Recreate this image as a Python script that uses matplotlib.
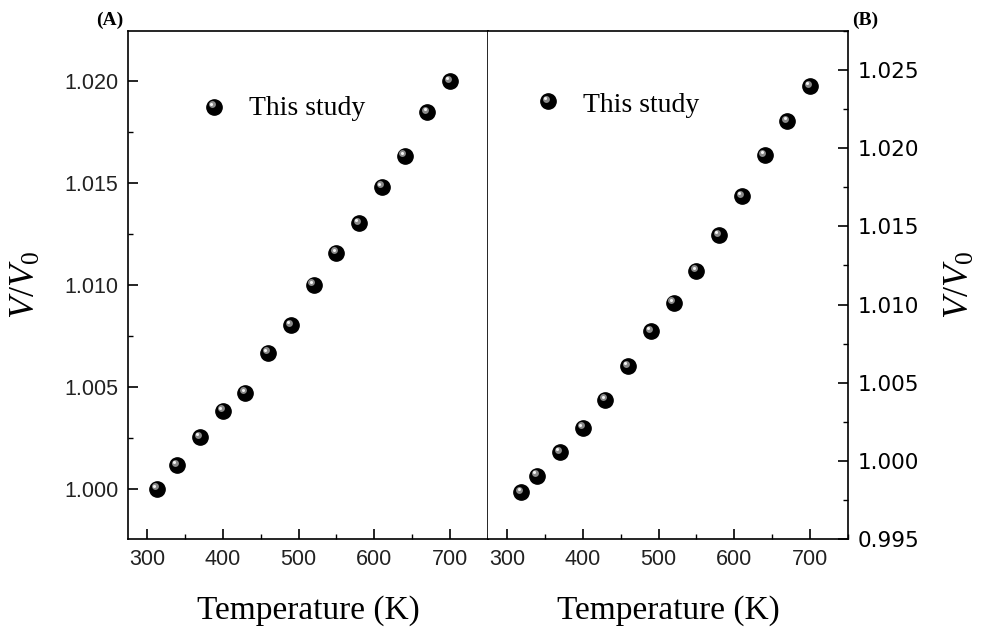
import matplotlib
matplotlib.use("Agg")
import matplotlib.pyplot as plt
import matplotlib.transforms as mtransforms
from matplotlib.ticker import MultipleLocator, FormatStrFormatter

# panel A data
temp_a = [313, 340, 370, 400, 430, 460, 490, 520, 550, 580, 610, 640, 670, 700]
vv0_a = [1.0000, 1.00115, 1.00252, 1.00382, 1.00471, 1.00667, 1.00803, 1.0100,
         1.01159, 1.01304, 1.01483, 1.01635, 1.01848, 1.0200]

# panel B data
temp_b = [319, 340, 370, 400, 430, 460, 490, 520, 550, 580, 610, 640, 670, 700]
vv0_b = [0.99799, 0.99906, 1.00056, 1.00212, 1.00391, 1.00605, 1.00829, 1.0101,
         1.01215, 1.01444, 1.01694, 1.01955, 1.02173, 1.02397]

serif = "Liberation Serif"
sans = "Liberation Sans"

plt.rcParams['mathtext.fontset'] = 'custom'
plt.rcParams['mathtext.it'] = 'Liberation Serif:italic'
plt.rcParams['mathtext.rm'] = 'Liberation Serif'

fig = plt.figure(figsize=(9.82, 6.3), dpi=100)
ax_a = fig.add_axes([128 / 982, 91 / 630, 360 / 982, 508 / 630])
ax_b = fig.add_axes([488 / 982, 91 / 630, 360 / 982, 508 / 630])


def sphere(ax, x, y, base, s=11):
    # black ball with a small highlight, offset up-left
    ax.plot(x, y, 'o', ms=s, color='black', mec='black', transform=base, zorder=3, clip_on=False)
    hi1 = mtransforms.offset_copy(base, fig=fig, x=-1.6, y=1.8, units='points')
    ax.plot(x, y, 'o', ms=s * 0.45, color='#8a8a8a', mec='none', transform=hi1, zorder=4, clip_on=False)
    hi2 = mtransforms.offset_copy(base, fig=fig, x=-2.0, y=2.2, units='points')
    ax.plot(x, y, 'o', ms=s * 0.2, color='#f2f2f2', mec='none', transform=hi2, zorder=5, clip_on=False)


sphere(ax_a, temp_a, vv0_a, ax_a.transData)
sphere(ax_b, temp_b, vv0_b, ax_b.transData)

for ax in (ax_a, ax_b):
    ax.set_xlim(275, 750)
    ax.xaxis.set_major_locator(MultipleLocator(100))
    ax.xaxis.set_minor_locator(MultipleLocator(50))
    ax.yaxis.set_major_locator(MultipleLocator(0.005))
    ax.yaxis.set_minor_locator(MultipleLocator(0.0025))
    ax.yaxis.set_major_formatter(FormatStrFormatter('%.3f'))
    ax.tick_params(which='major', direction='in', length=7.5, width=1.2, labelsize=15.5, pad=7)
    ax.tick_params(which='minor', direction='in', length=3.8, width=1.0)
    for sp in ax.spines.values():
        sp.set_linewidth(1.2)
    for lab in ax.get_xticklabels() + ax.get_yticklabels():
        lab.set_fontfamily(sans)
        lab.set_color('#222222')
    ax.set_xlabel('Temperature (K)', fontsize=24, fontfamily=serif, labelpad=18)

ax_a.set_ylim(0.99753, 1.02247)
ax_a.tick_params(axis='both', which='both', top=False, right=False)
ax_a.set_ylabel('$V/V_0$', fontsize=26, labelpad=16)

ax_b.set_ylim(0.995, 1.0275)
ax_b.yaxis.tick_right()
ax_b.tick_params(axis='both', which='both', top=False, left=False)
ax_b.yaxis.set_label_position('right')
ax_b.set_ylabel('$V/V_0$', fontsize=26, labelpad=16, rotation=90)
ax_b.spines['left'].set_visible(False)

# legend entries (marker + text, in axes fractions)
sphere(ax_a, [0.239], [0.851], ax_a.transAxes)
ax_a.text(0.337, 0.847, 'This study', transform=ax_a.transAxes, fontsize=20,
          fontfamily=serif, va='center', ha='left')
sphere(ax_b, [0.167], [0.862], ax_b.transAxes)
ax_b.text(0.264, 0.853, 'This study', transform=ax_b.transAxes, fontsize=20,
          fontfamily=serif, va='center', ha='left')

fig.text(96 / 982, 1 - 20 / 630, '(A)', fontsize=14, fontweight='bold', fontfamily=serif, va='center')
fig.text(852 / 982, 1 - 20 / 630, '(B)', fontsize=14, fontweight='bold', fontfamily=serif, va='center')

fig.savefig('out.png', dpi=100)
